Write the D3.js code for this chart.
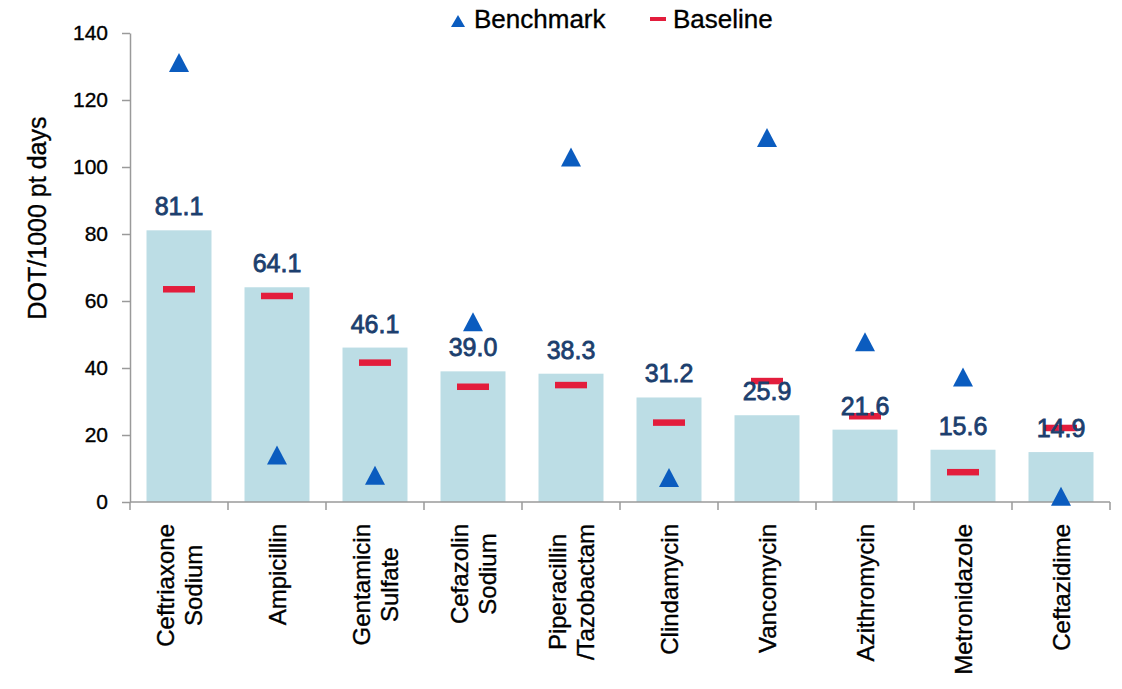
<!DOCTYPE html>
<html>
<head>
<meta charset="utf-8">
<script src="https://cdn.jsdelivr.net/npm/d3@7"></script>
<style>
  html, body { margin: 0; padding: 0; background: #ffffff; }
  svg { display: block; font-family: "Liberation Sans", Arial, sans-serif; }
</style>
</head>
<body>
<svg id="chart" width="1122" height="689"></svg>
<script>
// ---- Data ----
const categories = [
  ["Ceftriaxone", "Sodium"],
  ["Ampicillin"],
  ["Gentamicin", "Sulfate"],
  ["Cefazolin", "Sodium"],
  ["Piperacillin", "/Tazobactam"],
  ["Clindamycin"],
  ["Vancomycin"],
  ["Azithromycin"],
  ["Metronidazole"],
  ["Ceftazidime"]
];
const currentValues   = [81.1, 64.1, 46.1, 39.0, 38.3, 31.2, 25.9, 21.6, 15.6, 14.9];
const baselineValues  = [63.5, 61.5, 41.6, 34.4, 34.9, 23.7, 36.1, 25.6, 8.9, 22.1];
const benchmarkValues = [131.2, 14.0, 8.0, 53.8, 103.0, 7.3, 108.8, 47.8, 37.3, 1.7];
const yTicks = [0, 20, 40, 60, 80, 100, 120, 140];
const yTitle = "DOT/1000 pt days";
const legendLabels = ["Benchmark", "Baseline"];

(function () {
// ---- Layout ----
const svg = d3.select("#chart");
const pLeft = 130, pRight = 1110, pTop = 33, pBottom = 502;
const keys = categories.map((c, i) => i);

const x = d3.scaleBand().domain(keys).range([pLeft, pRight])
  .paddingInner(0.337).paddingOuter(0.1685);
const y = d3.scaleLinear().domain([0, 140]).range([pBottom, pTop]);

const colBar = "#bcdde5", colLabel = "#1c3f6e", colTri = "#0b5cbf", colDash = "#e31d3c", colAxis = "#9a9a9a";
const heft = 0.35;

// Bars
svg.append("g").selectAll("rect").data(currentValues).join("rect")
  .attr("x", (d, i) => x(i))
  .attr("y", d => y(d))
  .attr("width", x.bandwidth())
  .attr("height", d => y(0) - y(d))
  .attr("fill", colBar);

// Axes
const yAxis = d3.axisLeft(y).tickValues(yTicks).tickSize(8).tickSizeOuter(0).tickPadding(14);
const gy = svg.append("g").attr("transform", `translate(${pLeft},0)`).call(yAxis);
gy.select(".domain").attr("stroke", colAxis).attr("stroke-width", 1.5);
gy.selectAll(".tick line").attr("stroke", colAxis).attr("stroke-width", 1.5);
gy.selectAll(".tick text").attr("font-size", 21).attr("fill", "#000")
  .attr("stroke", "#000").attr("stroke-width", heft)
  .attr("font-family", "Liberation Sans, Arial, sans-serif");

// X axis line and boundary ticks
const gx = svg.append("g");
gx.append("line").attr("x1", pLeft).attr("x2", pRight).attr("y1", y(0)).attr("y2", y(0))
  .attr("stroke", colAxis).attr("stroke-width", 1.5);
const gap = x.step() - x.bandwidth();
const boundaries = keys.map(i => x(i) - gap / 2).concat([x(keys[keys.length - 1]) + x.bandwidth() + gap / 2]);
gx.selectAll("line.tk").data(boundaries).join("line").attr("class", "tk")
  .attr("x1", d => d).attr("x2", d => d)
  .attr("y1", y(0)).attr("y2", y(0) + 8)
  .attr("stroke", colAxis).attr("stroke-width", 1.5);

// Category labels (rotated, block top-aligned, lines centred in block)
const lineH = 28;
gx.selectAll("text.cat").data(categories).join("text").attr("class", "cat")
  .attr("transform", (d, i) => `translate(${x(i) + x.bandwidth() / 2},${y(0) + 22}) rotate(-90)`)
  .attr("text-anchor", "middle")
  .attr("font-size", 24)
  .attr("fill", "#000")
  .attr("stroke", "#000").attr("stroke-width", heft)
  .each(function(lines) {
    const t = d3.select(this);
    const spans = lines.map((ln, j) => t.append("tspan")
        .attr("y", (j - (lines.length - 1) / 2) * lineH)
        .attr("dy", "0.36em")
        .text(ln));
    const maxLen = d3.max(spans, s => s.node().getComputedTextLength());
    spans.forEach(s => s.attr("x", -maxLen / 2));
  });

// Baseline dashes
svg.append("g").selectAll("rect").data(baselineValues).join("rect")
  .attr("x", (d, i) => x(i) + x.bandwidth() / 2 - 16)
  .attr("y", d => y(d) - 3.25)
  .attr("width", 32).attr("height", 6.5)
  .attr("fill", colDash);

// Value labels
svg.append("g").selectAll("text").data(currentValues).join("text")
  .attr("x", (d, i) => x(i) + x.bandwidth() / 2)
  .attr("y", d => y(d) - 15)
  .attr("text-anchor", "middle")
  .attr("font-size", 25)
  .attr("fill", colLabel)
  .attr("stroke", colLabel).attr("stroke-width", 0.8)
  .text(d => d.toFixed(1));

// Benchmark triangles
const tri = (w, h) => `M0,${-h / 2}L${w / 2},${h / 2}L${-w / 2},${h / 2}Z`;
svg.append("g").selectAll("path").data(benchmarkValues).join("path")
  .attr("transform", (d, i) => `translate(${x(i) + x.bandwidth() / 2},${y(d)})`)
  .attr("d", tri(20, 19))
  .attr("fill", colTri);

// Y title
svg.append("text")
  .attr("transform", `translate(46,218) rotate(-90)`)
  .attr("text-anchor", "middle")
  .attr("font-size", 25)
  .attr("fill", "#000")
  .attr("stroke", "#000").attr("stroke-width", heft)
  .text(yTitle);

// Legend
const lg = svg.append("g");
lg.append("path").attr("transform", "translate(458,21)").attr("d", tri(14, 12)).attr("fill", colTri);
lg.append("text").attr("x", 474).attr("y", 28).attr("font-size", 26).attr("fill", "#000")
  .attr("stroke", "#000").attr("stroke-width", heft).text(legendLabels[0]);
lg.append("rect").attr("x", 650).attr("y", 17).attr("width", 16).attr("height", 4).attr("fill", colDash);
lg.append("text").attr("x", 673).attr("y", 28).attr("font-size", 26).attr("fill", "#000")
  .attr("stroke", "#000").attr("stroke-width", heft).text(legendLabels[1]);
})();
</script>
</body>
</html>
